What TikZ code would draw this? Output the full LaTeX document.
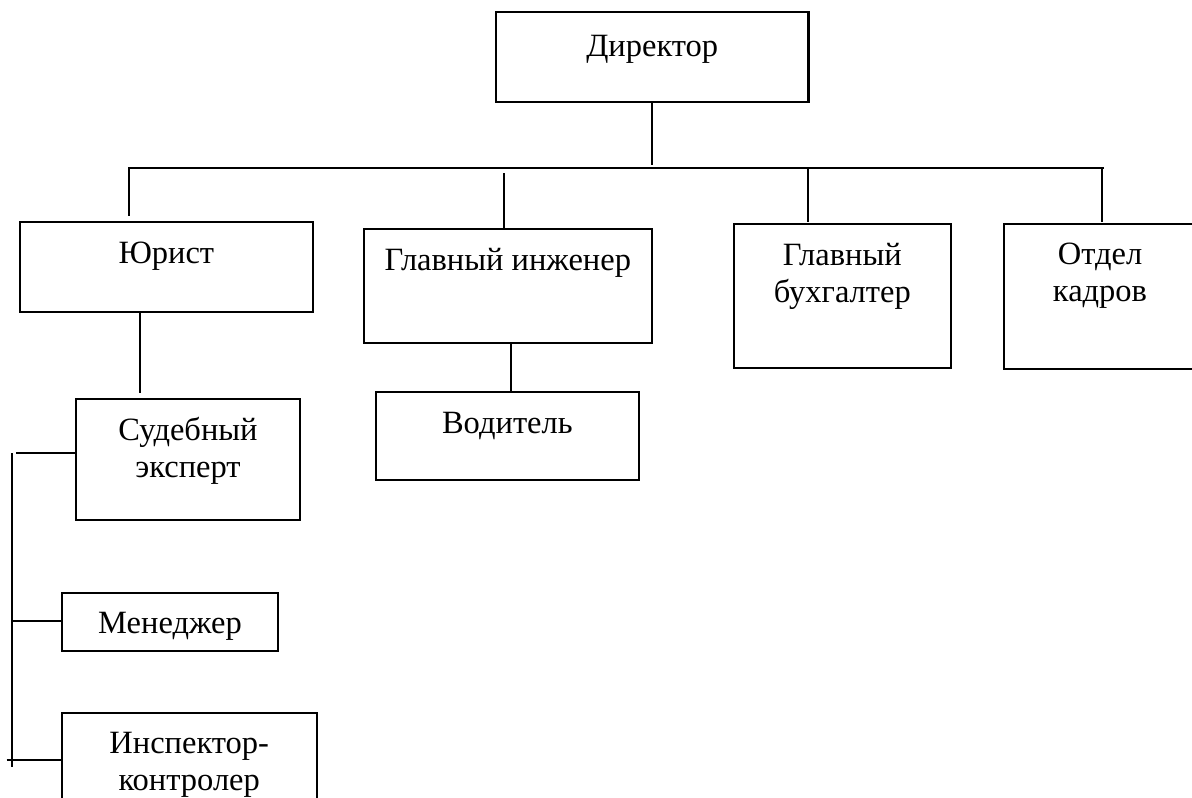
\documentclass[tikz,border=0pt]{standalone}
\usepackage{fontspec}
\setmainfont{Liberation Serif}
\newcommand\mytwo[2]{\begin{tabular}[t]{@{}c@{}}#1\\#2\end{tabular}}
\begin{document}
\begin{tikzpicture}[x=1pt,y=-1pt,
  box/.style={draw=black,line width=2.3pt,rectangle,inner sep=0pt,fill=none},
  lbl/.style={inner sep=0pt,anchor=base,font=\fontsize{32.5}{37}\selectfont},
  conn/.style={draw=black,line width=2pt}]
\useasboundingbox[fill=white] (0,0) rectangle (1192,798);
% boxes
\node[box,minimum width=312.4pt,minimum height=90pt]   (dir) at (652.2,57.3) {};
\node[box,minimum width=292.7pt,minimum height=90.6pt] (yur) at (166.35,267) {};
\node[box,minimum width=287.7pt,minimum height=114.6pt](gi)  at (507.85,286) {};
\node[box,minimum width=216.7pt,minimum height=144.3pt](gb)  at (842.35,296.15) {};
\node[box,minimum width=192pt,minimum height=144.7pt]  (ok)  at (1100,296.35) {};
\node[box,minimum width=224pt,minimum height=121pt]    (sud) at (188,459.5) {};
\node[box,minimum width=262.7pt,minimum height=87.7pt] (vod) at (507.35,436.15) {};
\node[box,minimum width=216.6pt,minimum height=58pt]   (man) at (170,621.7) {};
\node[box,minimum width=255pt,minimum height=127.3pt]  (ins) at (189.2,776.35) {};
% texts
\node[lbl] (tdir) at (652.2,56.5) {Директор};
\node[lbl] (tyur) at (166.35,263.5) {Юрист};
\node[lbl] (tgi)  at (507.85,270.5) {Главный инженер};
\node[lbl] (tgb)  at (842.35,265.5) {\mytwo{Главный}{бухгалтер}};
\node[lbl] (tok)  at (1100,264.5) {\mytwo{Отдел}{кадров}};
\node[lbl] (tsud) at (188,440.5) {\mytwo{Судебный}{эксперт}};
\node[lbl] (tvod) at (507.35,433.5) {Водитель};
\node[lbl] (tman) at (170,633.5) {Менеджер};
\node[lbl] (tins) at (189.2,753.5) {\mytwo{Инспектор-}{контролер}};
% bus coordinates
\coordinate (busL) at (129,168);
\coordinate (busR) at (1104,168);
\coordinate (dirE) at (dir.south |- 0,165);
\coordinate (yurE) at (129,216);
\coordinate (giS)  at (504,173);
\coordinate (gbS)  at (808,168);
\coordinate (gbE)  at (808,221.7);
\coordinate (okS)  at (1102,168);
\coordinate (okE)  at (1102,221.7);
\coordinate (sudE) at (140,392.7);
\coordinate (vodS) at (511,343.3);
\coordinate (barT) at (12.3,453);
\coordinate (barB) at (12.3,767);
\coordinate (sudL) at (16,453);
\coordinate (manL) at (12.3,620.7);
\coordinate (insL) at (6.7,760);
% connectors
\draw[conn] (dir.south) -- (dirE);
\draw[conn] (busR) -- (busL) -- (yurE);
\draw[conn] (giS) -- (giS |- gi.north);
\draw[conn] (gbS) -- (gbE);
\draw[conn] (okS) -- (okE);
\draw[conn] (sudE |- yur.south) -- (sudE);
\draw[conn] (vodS) -- (vodS |- vod.north);
\draw[conn] (sudL) -- (sudL -| sud.west);
\draw[conn] (barT) -- (barB);
\draw[conn] (manL) -- (manL -| man.west);
\draw[conn] (insL) -- (insL -| ins.west);
\end{tikzpicture}
\end{document}
